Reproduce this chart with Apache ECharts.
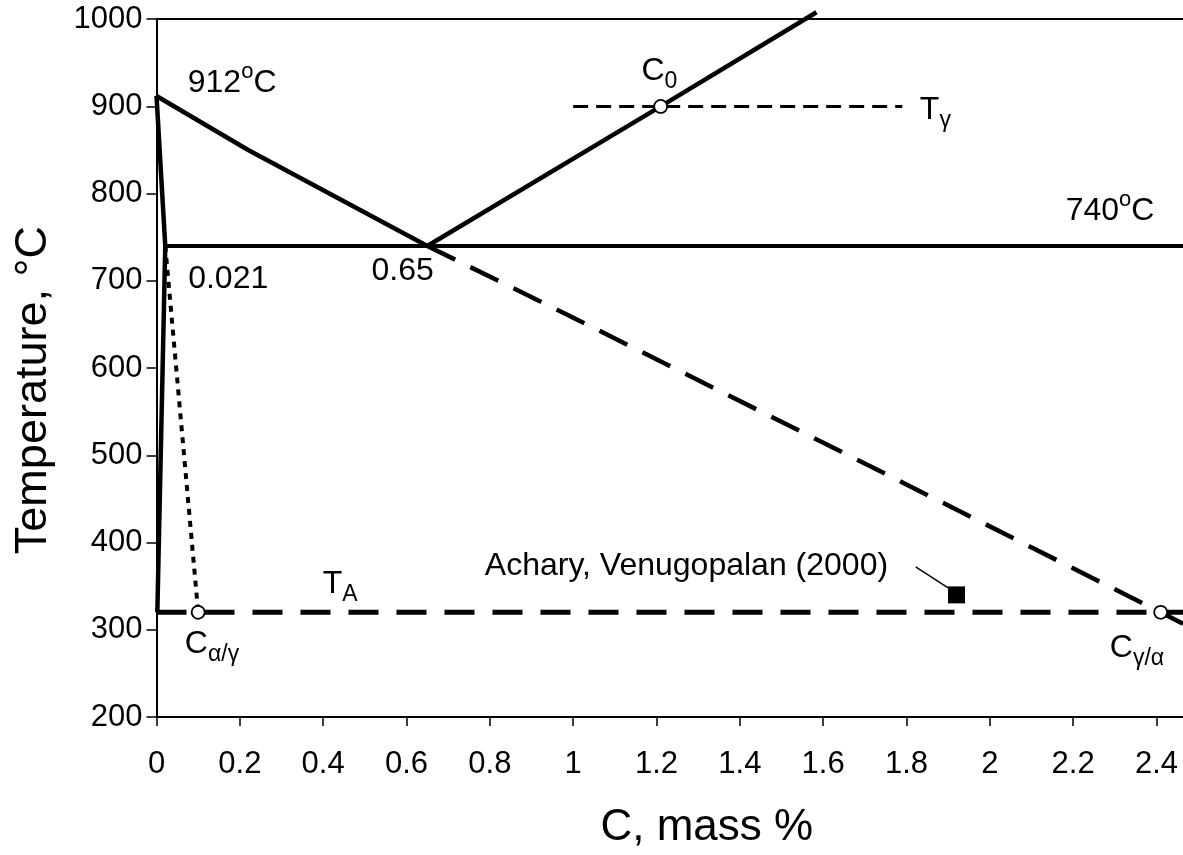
<!DOCTYPE html>
<html>
<head>
<meta charset="utf-8">
<script src="https://cdn.jsdelivr.net/npm/echarts@6/dist/echarts.min.js"></script>
<style>
html,body{margin:0;padding:0;background:#fff;}
#chart{width:1183px;height:855px;}
</style>
</head>
<body>
<div id="chart"></div>
<script>
// ---- data (C mass %, temperature °C) ----
const a3Line      = [[0, 912], [0.22, 850], [0.65, 740]];
const acmLine     = [[0.65, 740], [1.21, 900], [1.584, 1008]];
const eutectoid   = [[0.021, 740], [2.4636, 740]];
const ferriteLine = [[0, 912], [0.021, 740], [0.002, 320]];
const t0Dotted    = [[0.021, 740], [0.1, 320]];
const acmExtended = [[0.65, 740], [0.97, 665], [1.69, 493], [2.41, 320], [2.4636, 307]];
const tGammaLine  = [[1.0, 900], [1.79, 900]];
const tALine      = [[0, 320], [2.4636, 320]];
const openPoints  = [[1.21, 900], [0.1, 320], [2.41, 320]];
const acharyPoint = [[1.92, 340]];
const leaderLine  = [[1.822, 372], [1.90, 348]];

const labelTexts = ['912{sup|o}C', '0.021', '0.65', '740{sup|o}C', 'C{sub|0}', 'T{sub|γ}',
                    'T{sub|A}', 'C{sub|α/γ}', 'C{sub|γ/α}', 'Achary, Venugopalan (2000)'];
const labelAt = [[0.075, 927], [0.076, 702], [0.516, 711], [2.182, 780], [1.164, 940],
                 [1.832, 896], [0.399, 352], [0.068, 284], [2.288, 279], [0.788, 373]];

const FONT = '"Liberation Sans", Arial, sans-serif';
const chart = echarts.init(document.getElementById('chart'), null, {renderer: 'canvas'});

function lineSeries(name, data, width, type, extra) {
  return Object.assign({
    name, type: 'line', data, showSymbol: false, symbol: 'none',
    lineStyle: {color: '#000', width, type: type || 'solid', cap: 'butt', join: 'round', opacity: 1},
    z: 3, silent: true
  }, extra || {});
}

const option = {
  animation: false,
  backgroundColor: '#fff',
  grid: {left: 156.5, top: 19.2, right: 0, bottom: 129.5, containLabel: false},
  xAxis: [{
    type: 'value', min: 0, max: 2.4636, interval: 0.2,
    name: 'C, mass %', nameLocation: 'middle', nameGap: 89,
    nameTextStyle: {fontFamily: FONT, fontSize: 44, color: '#000', padding: [0, 0, 0, 74]},
    axisLine: {show: true, onZero: false, lineStyle: {color: '#000', width: 2}},
    axisTick: {show: true, length: 9, lineStyle: {color: '#000', width: 1.5}},
    axisLabel: {fontFamily: FONT, fontSize: 31, color: '#000', margin: 32, showMaxLabel: false},
    splitLine: {show: false}
  }, {
    type: 'value', min: 0, max: 2.4636, position: 'top',
    axisLine: {show: true, onZero: false, lineStyle: {color: '#000', width: 2}},
    axisTick: {show: false}, axisLabel: {show: false}, splitLine: {show: false}
  }],
  yAxis: {
    type: 'value', min: 200, max: 1000, interval: 100,
    name: 'Temperature, °C', nameLocation: 'middle', nameGap: 100,
    nameTextStyle: {fontFamily: FONT, fontSize: 45, color: '#000', padding: [0, 44, 0, 0]},
    axisLine: {show: true, onZero: false, lineStyle: {color: '#000', width: 2}},
    axisTick: {show: true, length: 10, lineStyle: {color: '#000', width: 1.5}},
    axisLabel: {fontFamily: FONT, fontSize: 31, color: '#000', margin: 14, formatter: v => String(v)},
    splitLine: {show: false}
  },
  series: [
    lineSeries('A3', a3Line, 4.5),
    lineSeries('Acm', acmLine, 4.5, 'solid', {clip: false}),
    lineSeries('Eutectoid', eutectoid, 4),
    lineSeries('Ferrite', ferriteLine, 4.5),
    lineSeries('T0', t0Dotted, 4, [6, 6]),
    lineSeries('Acm extended', acmExtended, 4.5, [31, 17]),
    lineSeries('Tgamma', tGammaLine, 3, [15, 8]),
    lineSeries('TA', tALine, 5, [30, 18]),
    lineSeries('Leader', leaderLine, 1.5),
    {
      name: 'Open points', type: 'scatter', data: openPoints, symbol: 'circle', symbolSize: 13,
      itemStyle: {color: '#fff', borderColor: '#000', borderWidth: 1.8, opacity: 1}, z: 6, silent: true
    },
    {
      name: 'Achary, Venugopalan (2000)', type: 'scatter', data: acharyPoint, symbol: 'rect', symbolSize: 17,
      itemStyle: {color: '#000', opacity: 1}, z: 6, silent: true
    },
    {
      name: 'Labels', type: 'scatter', symbol: 'circle', symbolSize: 0, z: 7, silent: true,
      data: labelAt.map((p, i) => ({value: p, label: {formatter: labelTexts[i]}})),
      itemStyle: {color: '#000', opacity: 1},
      label: {
        show: true, position: 'right', distance: 0, opacity: 1,
        fontFamily: FONT, fontSize: 32, color: '#000', lineHeight: 44,
        rich: {
          sup: {fontFamily: FONT, fontSize: 22, color: '#000', lineHeight: 16, verticalAlign: 'top'},
          sub: {fontFamily: FONT, fontSize: 23, color: '#000', lineHeight: 31, verticalAlign: 'bottom'}
        }
      }
    }
  ]
};
chart.setOption(option);
</script>
</body>
</html>
